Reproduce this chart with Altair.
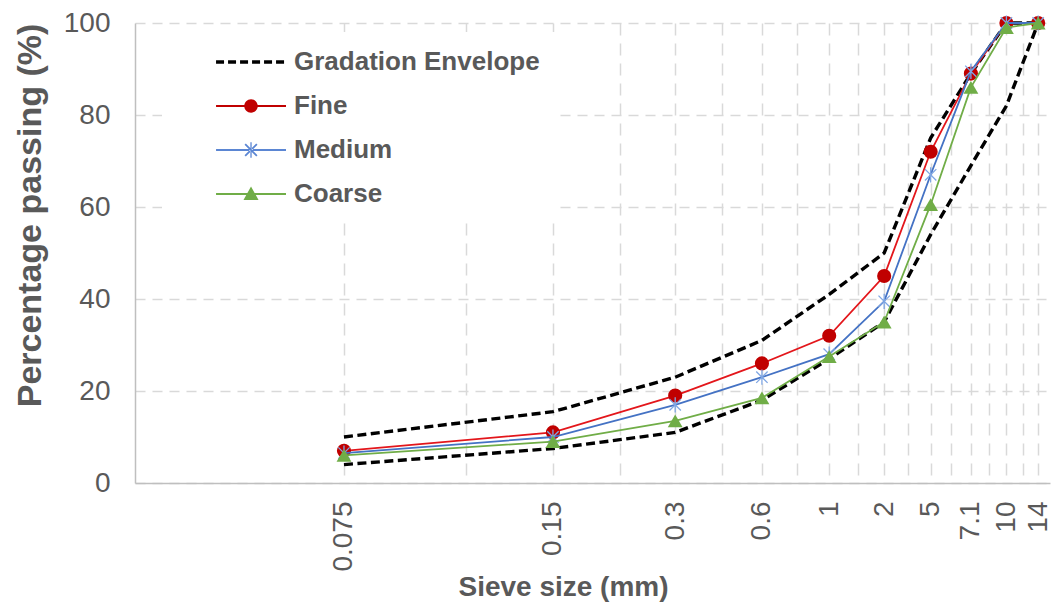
import altair as alt
import pandas as pd

# ---------------- data ----------------
sieve_sizes = ["0.075", "0.15", "0.3", "0.6", "1", "2", "5", "7.1", "10", "14"]
series_names = ["Gradation Envelope", "Fine", "Medium", "Coarse"]

envelope_upper = [10, 15.5, 23, 31, 41, 50, 75, 89, 100, 100]
envelope_lower = [4, 7.5, 11, 18, 27, 35, 54, 69, 82, 100]
fine = [7, 11, 19, 26, 32, 45, 72, 89, 100, 100]
medium = [6.5, 10, 17, 23, 28, 39.5, 67, 89.5, 100, 100]
coarse = [6, 9, 13.5, 18.5, 27.5, 35, 60.5, 86, 99, 100]

# the original chart places sieve i at category index 2*(i+1) of a log axis
rows = []
curves = [
    ("Gradation Envelope", "upper", envelope_upper),
    ("Gradation Envelope", "lower", envelope_lower),
    ("Fine", "fine", fine),
    ("Medium", "medium", medium),
    ("Coarse", "coarse", coarse),
]
for name, curve, vals in curves:
    for i, (s, v) in enumerate(zip(sieve_sizes, vals)):
        rows.append({"series": name, "curve": curve, "k": 2 * (i + 1), "sieve": s, "value": v})
df = pd.DataFrame(rows)

# ---------------- styles ----------------
FONT = "Liberation Sans"
TXT = "#595959"
RED_LINE, RED_MARK = "#E3161B", "#C00000"
BLUE_LINE, BLUE_MARK = "#4472C4", "#7FA6E3"
GREEN = "#70AD47"

# legend symbol paths, all made of filled shapes (unit = 13 px for symbolSize 676)
U = 13.0
cx, hl = 4.54, 2.69


def rect(x0, x1, h):
    return f"M{x0:.3f},{-h:.3f}L{x1:.3f},{-h:.3f}L{x1:.3f},{h:.3f}L{x0:.3f},{h:.3f}Z"


def poly(p):
    return "M" + "L".join(f"{a:.3f},{b:.3f}" for a, b in p) + "Z"


p_line = rect(cx - hl, cx + hl, 0.07)
dash_len, gap_len = 8 / U, 4 / U
p_env = ""
xpos = cx - hl
while xpos < cx + hl - 1e-6:
    x1 = min(xpos + dash_len, cx + hl)
    p_env += rect(xpos, x1, 0.13)
    xpos = x1 + gap_len
r = 0.52
p_circle = p_line + f"M{cx-r:.3f},0A{r},{r} 0 1,1 {cx+r:.3f},0A{r},{r} 0 1,1 {cx-r:.3f},0Z"
a, w = 0.45, 0.05
p_star = (p_line
          + poly([(cx - a - w, -a + w), (cx - a + w, -a - w), (cx + a + w, a - w), (cx + a - w, a + w)])
          + poly([(cx - a - w, a - w), (cx - a + w, a + w), (cx + a + w, -a + w), (cx + a - w, -a - w)])
          + poly([(cx - w, -0.6), (cx + w, -0.6), (cx + w, 0.6), (cx - w, 0.6)]))
t = 0.58
p_tri = p_line + poly([(cx, -t), (cx + t, t * 0.8), (cx - t, t * 0.8)])
legend_paths = [p_env, p_circle, p_star, p_tri]
legend_colors = ["#000000", RED_MARK, "#5B86D3", GREEN]

asterisk = "M-0.75,-0.75L0.75,0.75M-0.75,0.75L0.75,-0.75M0,-1L0,1"

# x labels only at the sieve positions
label_expr = ""
for i, s in enumerate(sieve_sizes):
    label_expr += f"datum.value == {2*(i+1)} ? '{s}' : "
label_expr += "''"

x_enc = alt.X(
    "k:Q",
    scale=alt.Scale(type="log", domain=[1, 20.8], nice=False),
    axis=alt.Axis(
        values=list(range(2, 21)), labelExpr=label_expr, labelAngle=-90,
        labelAlign="right", labelBaseline="middle", labelPadding=18,
        labelFlush=False, labelOverlap=False, ticks=False,
        grid=True, gridDash=[12, 8], gridColor="#D9D9D9", gridWidth=1.5,
        domainColor="#BFBFBF", domainWidth=1.5,
        labelFont=FONT, labelFontSize=28, labelColor=TXT,
        titleFont=FONT, titleFontSize=28, titleFontWeight="bold", titleColor=TXT,
        titleX=428, titleY=104, titleAlign="center", titleBaseline="middle",
    ),
    title="Sieve size (mm)",
)
y_enc = alt.Y(
    "value:Q",
    scale=alt.Scale(domain=[0, 100], nice=False),
    axis=alt.Axis(
        values=[0, 20, 40, 60, 80, 100], ticks=False, labelPadding=25,
        grid=True, gridDash=[10, 7], gridColor="#D9D9D9", gridWidth=1.5,
        domainColor="#BFBFBF", domainWidth=1.5,
        labelFont=FONT, labelFontSize=28, labelColor=TXT,
        titleFont=FONT, titleFontSize=34, titleFontWeight="bold", titleColor=TXT,
        titleX=-105, titleY=192, titleAngle=-90, titleAlign="center", titleBaseline="middle",
    ),
    title="Percentage passing (%)",
)

base = alt.Chart(df)

env_lines = base.transform_filter(alt.datum.series == "Gradation Envelope").mark_line(
    color="#000000", strokeWidth=3.4, strokeDash=[9, 4.5]
).encode(x=x_enc, y=y_enc, detail="curve:N")


def series_layers(name, line_color, mark_kw):
    sub = base.transform_filter(alt.datum.series == name)
    ln = sub.mark_line(color=line_color, strokeWidth=1.8).encode(x=x_enc, y=y_enc)
    pt = sub.mark_point(opacity=1, **mark_kw).encode(x=x_enc, y=y_enc)
    return [ln, pt]


fine_l = series_layers("Fine", RED_LINE, dict(shape="circle", filled=True, size=200, color=RED_MARK))
med_l = series_layers("Medium", BLUE_LINE, dict(shape=asterisk, filled=False, size=230,
                                                strokeWidth=1.3, color=BLUE_MARK))
coarse_l = series_layers("Coarse", GREEN, dict(shape="triangle-up", filled=True, size=220, color=GREEN))

leg = alt.Legend(
    orient="none", legendX=27, legendY=9, padding=16,
    fillColor="white", symbolSize=676, rowPadding=17, labelOffset=88,
    labelFont=FONT, labelFontSize=26, labelFontWeight="bold", labelColor=TXT,
    labelLimit=400,
    labelExpr="datum.label + '\u00a0\u00a0\u00a0\u00a0\u00a0\u00a0'",
    symbolOpacity=1,
)

# invisible layer that only carries the legend
legend_layer = base.mark_point(filled=True, opacity=0).encode(
    x=x_enc, y=y_enc,
    color=alt.Color("series:N", scale=alt.Scale(domain=series_names, range=legend_colors),
                    legend=leg, title=""),
    shape=alt.Shape("series:N", scale=alt.Scale(domain=series_names, range=legend_paths),
                    legend=leg, title=""),
)

chart = alt.layer(env_lines, *fine_l, *med_l, *coarse_l, legend_layer).properties(
    width=915, height=460,
    autosize=alt.AutoSizeParams(type="none"),
    padding={"left": 135, "top": 23, "right": 2, "bottom": 122},
    background="white",
).configure_view(stroke=None)

chart.save("out.html", embed_options={"renderer": "svg", "actions": False})
